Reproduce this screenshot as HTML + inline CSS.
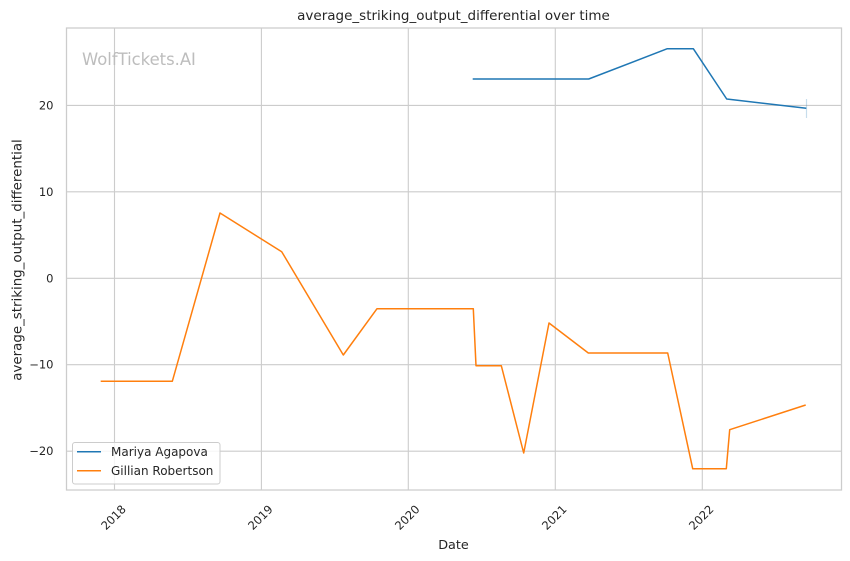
<!DOCTYPE html>
<html><head><meta charset="utf-8"><style>
html,body{margin:0;padding:0;background:#fff;}
svg{display:block;}
text{font-family:"DejaVu Sans","Liberation Sans",sans-serif;fill:#262626;}
</style></head><body>
<svg width="850" height="561" viewBox="0 0 850 561" xmlns="http://www.w3.org/2000/svg">
<rect x="0" y="0" width="850" height="561" fill="#fff"/>
<!-- grid -->
<g stroke="#cccccc" stroke-width="1.1" fill="none">
<line x1="114.5" y1="28" x2="114.5" y2="490"/>
<line x1="261.4" y1="28" x2="261.4" y2="490"/>
<line x1="408.3" y1="28" x2="408.3" y2="490"/>
<line x1="555.3" y1="28" x2="555.3" y2="490"/>
<line x1="702.3" y1="28" x2="702.3" y2="490"/>
<line x1="66.5" y1="105.4" x2="841.5" y2="105.4"/>
<line x1="66.5" y1="191.8" x2="841.5" y2="191.8"/>
<line x1="66.5" y1="278.3" x2="841.5" y2="278.3"/>
<line x1="66.5" y1="364.7" x2="841.5" y2="364.7"/>
<line x1="66.5" y1="451.2" x2="841.5" y2="451.2"/>
</g>
<rect x="66.5" y="28" width="775" height="462" fill="none" stroke="#cccccc" stroke-width="1.25"/>
<!-- watermark -->
<text x="82" y="65" font-size="16.4" style="fill:#bdbdbd">WolfTickets.AI</text>
<!-- series -->
<line x1="806.5" y1="99" x2="806.5" y2="118" stroke="#1f77b4" stroke-opacity="0.25" stroke-width="1.2"/>
<polyline fill="none" stroke="#1f77b4" stroke-width="1.5" stroke-linejoin="round" points="472.7,79 588.7,79 667.3,48.7 693.3,48.7 726.7,99 806.3,108.3"/>
<polyline fill="none" stroke="#ff7f0e" stroke-width="1.5" stroke-linejoin="round" points="100.7,381.3 172.3,381.3 220,213 281.7,251.7 343.3,355 377,308.7 473.3,308.7 476,365.7 501.3,365.7 523.7,453 549,323 588.3,353 667.7,353 692.7,468.7 726.3,468.7 729.7,429.7 805.7,405"/>
<!-- y tick labels -->
<g font-size="11.5" text-anchor="end" dominant-baseline="central">
<text x="53.5" y="105.4">20</text>
<text x="53.5" y="191.8">10</text>
<text x="53.5" y="278.3">0</text>
<text x="53.5" y="364.7">−10</text>
<text x="53.5" y="451.2">−20</text>
</g>
<!-- x tick labels -->
<g font-size="11.5" text-anchor="middle" dominant-baseline="central">
<text transform="translate(113.5,517.5) rotate(-45)">2018</text>
<text transform="translate(260.4,517.5) rotate(-45)">2019</text>
<text transform="translate(407.3,517.5) rotate(-45)">2020</text>
<text transform="translate(554.3,517.5) rotate(-45)">2021</text>
<text transform="translate(701.3,517.5) rotate(-45)">2022</text>
</g>
<!-- labels -->
<text x="453.5" y="20" font-size="13.5" text-anchor="middle">average_striking_output_differential over time</text>
<text x="453.5" y="549" font-size="12.8" text-anchor="middle">Date</text>
<text transform="translate(21.5,260) rotate(-90)" font-size="13.4" text-anchor="middle">average_striking_output_differential</text>
<!-- legend -->
<rect x="72.5" y="442.5" width="147.5" height="41.5" rx="2.5" ry="2.5" fill="#fff" fill-opacity="0.8" stroke="#cccccc" stroke-width="1"/>
<line x1="77" y1="451.7" x2="101" y2="451.7" stroke="#1f77b4" stroke-width="1.5"/>
<line x1="77" y1="470.7" x2="101" y2="470.7" stroke="#ff7f0e" stroke-width="1.5"/>
<g font-size="12">
<text x="111" y="456">Mariya Agapova</text>
<text x="111" y="475">Gillian Robertson</text>
</g>
</svg>
</body></html>
